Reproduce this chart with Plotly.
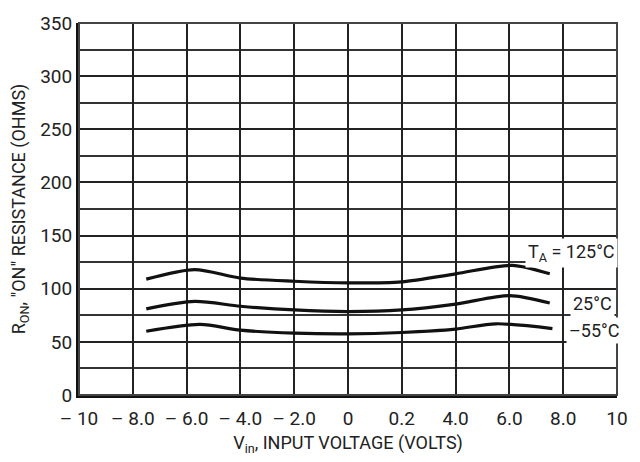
import plotly.graph_objects as go

# Data
v_125 = [-7.5, -5.7, -4.0, -2.0, 0.0, 2.0, 4.0, 6.1, 7.5]
r_125 = [109, 118, 110, 107, 105.5, 106.5, 114, 122, 114]
v_25 = [-7.5, -5.7, -4.0, -2.0, 0.0, 2.0, 4.0, 6.0, 7.5]
r_25 = [81, 88, 83.5, 80, 78.5, 80, 85.5, 93.5, 86.5]
v_m55 = [-7.5, -5.5, -4.0, -2.0, 0.0, 2.0, 4.0, 5.5, 7.6]
r_m55 = [60, 66.5, 61, 58.2, 57.5, 58.8, 62, 67, 62.5]

x_tickvals = [-10, -8, -6, -4, -2, 0, 2, 4, 6, 8, 10]
x_ticktext = ["\u2013 10", "\u2013 8.0", "\u2013 6.0", "\u2013 4.0", "\u2013 2.0", "0", "0.2", "4.0", "6.0", "8.0", "10"]
y_tickvals = [0, 50, 100, 150, 200, 250, 300, 350]

labels = ["T<sub>A</sub> = 125°C", "25°C", "\u201355°C"]
label_x = [8.3, 9.1, 9.15]
label_y = [134, 86.5, 60.5]

FONT = "Roboto, Liberation Sans, Arial, sans-serif"

fig = go.Figure()
for xs, ys in [(v_125, r_125), (v_25, r_25), (v_m55, r_m55)]:
    fig.add_trace(go.Scatter(x=xs, y=ys, mode="lines",
                             line=dict(color="#111111", width=3.2, shape="spline", smoothing=0.8),
                             showlegend=False, hoverinfo="skip"))

for t, lx, ly in zip(labels, label_x, label_y):
    fig.add_annotation(x=lx, y=ly, text=t, showarrow=False, bgcolor="white",
                       borderpad=2, font=dict(family=FONT, size=18, color="#222222"))

fig.update_xaxes(range=[-10, 10], tickvals=x_tickvals, ticktext=x_ticktext,
                 showgrid=True, gridcolor="#222222", gridwidth=1.5,
                 showline=True, linecolor="#111111", linewidth=3, mirror=False,
                 ticks="", zeroline=False, ticklabelstandoff=4,
                 tickfont=dict(family=FONT, size=19, color="#222222"),
                 title=dict(text="V<sub>in</sub>, INPUT VOLTAGE (VOLTS)", standoff=8,
                            font=dict(family=FONT, size=18, color="#222222")))
fig.update_yaxes(range=[0, 350], tickvals=y_tickvals, showgrid=True,
                 minor=dict(dtick=25, showgrid=True, gridcolor="#333333", gridwidth=1.5),
                 gridcolor="#222222", gridwidth=1.5,
                 showline=True, linecolor="#111111", linewidth=3, ticks="", zeroline=False,
                 tickfont=dict(family=FONT, size=19, color="#222222"),
                 title=dict(text="R<sub>ON</sub>, \u2033ON\u2033 RESISTANCE (OHMS)", standoff=10,
                            font=dict(family=FONT, size=18, color="#222222")))

# top and right border
fig.add_shape(type="rect", xref="paper", yref="paper", x0=0, y0=0, x1=1, y1=1,
              line=dict(color="#444444", width=2), layer="above")

fig.update_layout(width=640, height=462, margin=dict(l=79, r=13, t=14, b=63),
                  plot_bgcolor="white", paper_bgcolor="white")

fig.write_html("out.html")
